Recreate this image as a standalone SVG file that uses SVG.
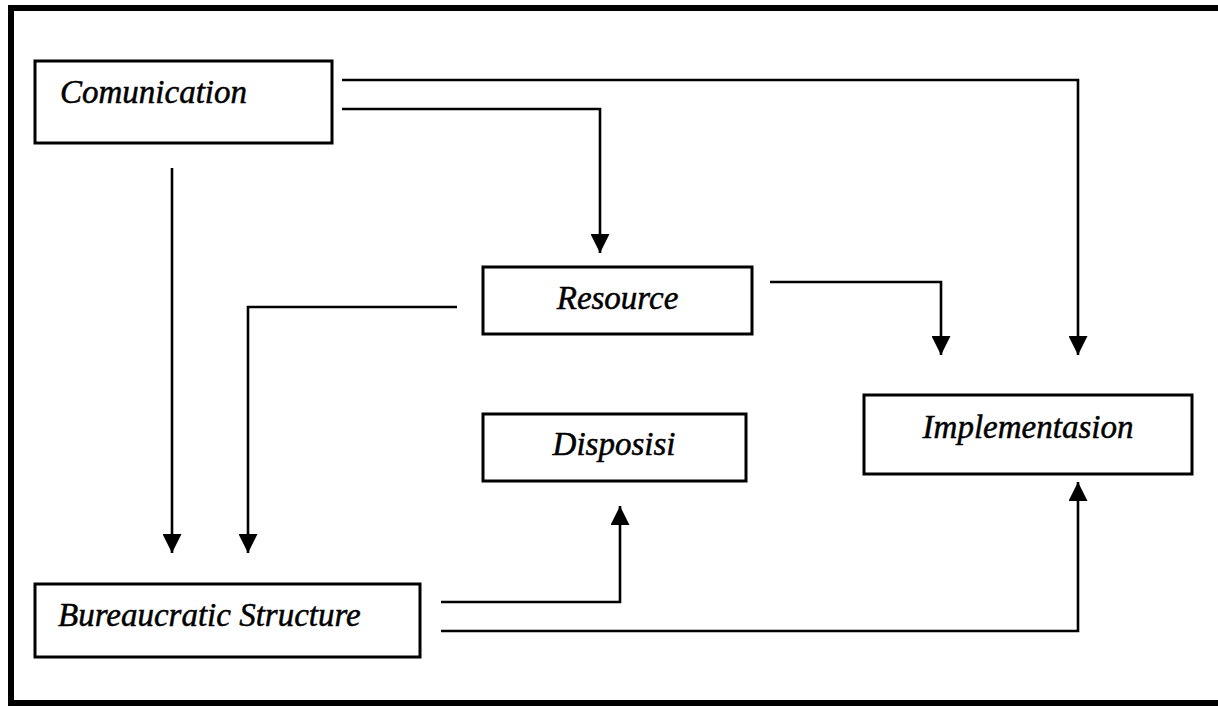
<svg xmlns="http://www.w3.org/2000/svg" width="1218" height="706" viewBox="0 0 1218 706">
<style>
.box{fill:#fff;stroke:#000;stroke-width:3}
.lbl{font-family:"Liberation Serif","Times New Roman",serif;font-style:italic;font-size:33px;fill:#000;stroke:#000;stroke-width:0.5}
.con{fill:none;stroke:#000;stroke-width:2.6}
</style>
<defs>
<marker id="ah" markerUnits="userSpaceOnUse" markerWidth="19" markerHeight="19" viewBox="0 0 19 19" refX="19" refY="9.5" orient="auto">
<path d="M0,0 L19,9.5 L0,19 z" fill="#000"/>
</marker>
</defs>
<rect x="0" y="0" width="1218" height="706" fill="#fff"/>
<g id="frame">
<path d="M1230,8 H11 V703 H1230" fill="none" stroke="#000" stroke-width="6"/>
</g>
<g id="connectors">
<path class="con" d="M342,80 H1078 V355" marker-end="url(#ah)"/>
<path class="con" d="M342,109 H600 V253" marker-end="url(#ah)"/>
<path class="con" d="M172,168 V553" marker-end="url(#ah)"/>
<path class="con" d="M457,307 H248 V553" marker-end="url(#ah)"/>
<path class="con" d="M770,282 H941 V355" marker-end="url(#ah)"/>
<path class="con" d="M441,602 H620 V506" marker-end="url(#ah)"/>
<path class="con" d="M441,631 H1078 V482" marker-end="url(#ah)"/>
</g>
<g id="comunication">
<rect class="box" x="35" y="61" width="297" height="82"/>
<text class="lbl" x="60" y="103">Comunication</text>
</g>
<g id="resource">
<rect class="box" x="483" y="267" width="269" height="67"/>
<text class="lbl" x="617.5" y="309" text-anchor="middle">Resource</text>
</g>
<g id="disposisi">
<rect class="box" x="483" y="414" width="263" height="67"/>
<text class="lbl" x="614" y="455" text-anchor="middle">Disposisi</text>
</g>
<g id="implementasion">
<rect class="box" x="864" y="395" width="328" height="79"/>
<text class="lbl" x="1028" y="438" text-anchor="middle">Implementasion</text>
</g>
<g id="bureaucratic">
<rect class="box" x="35" y="584" width="385" height="73"/>
<text class="lbl" x="58" y="626">Bureaucratic Structure</text>
</g>
</svg>
